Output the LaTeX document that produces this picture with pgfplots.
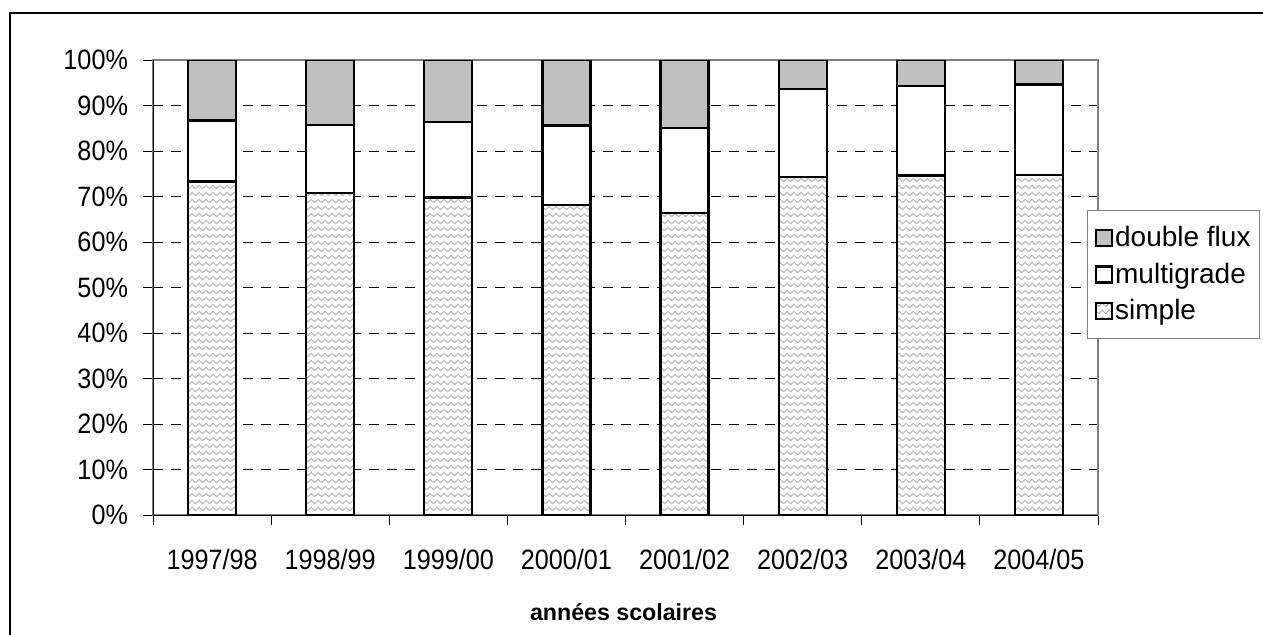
\documentclass[border=0pt]{standalone}
\usepackage{fontspec}
\setmainfont{Liberation Sans}
\newfontfamily\narrowfont[FakeStretch=0.9]{Liberation Sans}
\usepackage{pgfplots}
\pgfplotsset{compat=1.18}
\usetikzlibrary{patterns}

% light grey wavy hatching for the "simple" share
\pgfdeclarepatternformonly{waves}{\pgfqpoint{0pt}{0pt}}{\pgfqpoint{3.5pt}{3.4pt}}{\pgfqpoint{3.5pt}{3.4pt}}{
  \pgfsetlinewidth{0.5pt}
  \pgfpathmoveto{\pgfqpoint{-0.5pt}{1.2pt}}
  \pgfpathlineto{\pgfqpoint{0pt}{0.8pt}}
  \pgfpathlineto{\pgfqpoint{1.75pt}{2.4pt}}
  \pgfpathlineto{\pgfqpoint{3.5pt}{0.8pt}}
  \pgfpathlineto{\pgfqpoint{4pt}{1.2pt}}
  \pgfusepath{stroke}
}

\definecolor{fluxgray}{HTML}{C0C0C0}
\definecolor{framegray}{HTML}{808080}

\newcommand{\tickfont}{\narrowfont\fontsize{14}{17}\selectfont}
\newcommand{\legendfont}{\fontsize{14}{17}\selectfont}

\begin{document}
\begin{tikzpicture}
\useasboundingbox (0pt,0pt) rectangle (631.5pt,317pt);
% outer chart frame
\draw[black, line width=0.75pt] (5pt,-3pt) -- (5pt,310.5pt) -- (635pt,310.5pt);

\begin{axis}[
  at={(76.5pt,59.5pt)}, anchor=south west,
  scale only axis, width=472.5pt, height=227.5pt,
  ybar stacked, bar width=24pt,
  xmin=-0.5, xmax=7.5, ymin=0, ymax=100,
  xtick={-0.5,0.5,...,7.5}, xticklabels={},
  extra x ticks={0,1,2,3,4,5,6,7},
  extra x tick labels={1997/98,1998/99,1999/00,2000/01,2001/02,2002/03,2003/04,2004/05},
  extra x tick style={major tick length=0pt},
  ytick={0,10,...,100},
  yticklabels={0\%,10\%,20\%,30\%,40\%,50\%,60\%,70\%,80\%,90\%,100\%},
  tick pos=left, tick align=outside,
  major tick length=5pt,
  tick style={black, line width=0.5pt},
  ticklabel style={font=\tickfont},
  /pgf/number format/assume math mode=true,
  xticklabel style={yshift=-13.5pt},
  yticklabel style={xshift=-4pt},
  ymajorgrids,
  major grid style={black, line width=0.5pt, dash pattern=on 5pt off 4pt},
  axis line style={framegray, line width=0.75pt},
  reverse legend,
  legend cell align=left,
  legend style={at={(0.9884,0.670)}, anchor=north west,
    draw=framegray, line width=0.5pt, font=\legendfont,
    inner xsep=3.5pt, inner ysep=6pt, row sep=2.5pt,
    nodes={inner xsep=1.2pt}},
  legend image code/.code={\draw[#1] (0pt,-4pt) rectangle (8pt,4pt);},
]
\addplot[draw=black, line width=1.1pt, pattern=waves, pattern color=black!30, preaction={fill=white}]
  coordinates {(0,73.3) (1,70.8) (2,69.8) (3,68.1) (4,66.4) (5,74.3) (6,74.6) (7,74.7)};
\addlegendentry{simple}
\addplot[draw=black, line width=1.1pt, fill=white]
  coordinates {(0,13.4) (1,15.0) (2,16.6) (3,17.5) (4,18.7) (5,19.3) (6,19.7) (7,19.9)};
\addlegendentry{multigrade}
\addplot[draw=black, line width=1.1pt, fill=fluxgray]
  coordinates {(0,13.3) (1,14.2) (2,13.6) (3,14.4) (4,14.9) (5,6.4) (6,5.7) (7,5.4)};
\addlegendentry{double flux}
% darker left and bottom axis lines
\draw[black, line width=0.5pt] (rel axis cs:0,1) -- (rel axis cs:0,0) -- (rel axis cs:1,0);
\end{axis}
% axis title
\node[font=\fontsize{11.6}{14}\selectfont\bfseries, anchor=base, inner sep=0pt] at (311.75pt,7pt) {années scolaires};
\end{tikzpicture}
\end{document}
